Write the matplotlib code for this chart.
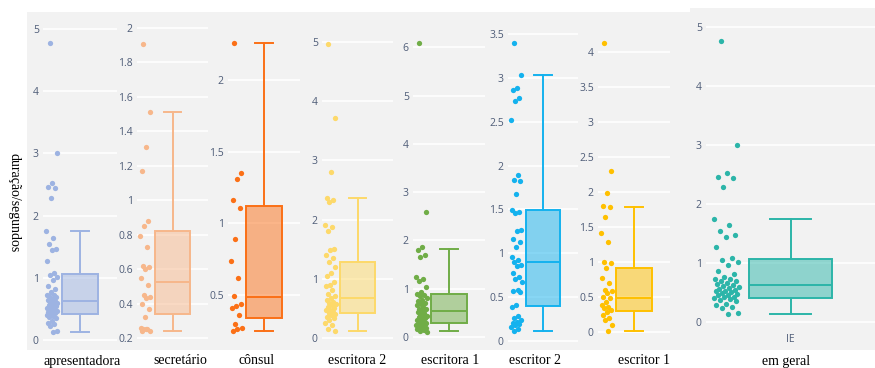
import numpy as np
import matplotlib
matplotlib.use("Agg")
import matplotlib.pyplot as plt
from matplotlib.patches import Rectangle

# ---- data (seconds) ----
categories = ["apresentadora", "secretário", "cônsul", "escritora 2",
              "escritora 1", "escritor 2", "escritor 1", "em geral"]

apresentadora = [4.77, 3.0, 2.52, 2.46, 2.44, 2.29, 1.75, 1.64, 1.55, 1.47, 1.44,
                 1.27, 1.08, 1.05, 1.02, 0.96, 0.87, 0.82, 0.77, 0.73, 0.72, 0.70,
                 0.69, 0.66, 0.65, 0.62, 0.61, 0.59, 0.58, 0.56, 0.55, 0.53, 0.52,
                 0.50, 0.49, 0.47, 0.46, 0.45, 0.43, 0.42, 0.40, 0.39, 0.37, 0.35,
                 0.31, 0.28, 0.25, 0.23, 0.15, 0.13]
secretario = [1.91, 1.51, 1.31, 1.17, 0.88, 0.85, 0.79, 0.73, 0.62, 0.61, 0.60,
              0.55, 0.51, 0.45, 0.44, 0.43, 0.40, 0.37, 0.32, 0.26, 0.25, 0.25,
              0.24, 0.25, 0.24]
consul = [2.26, 1.35, 1.31, 1.16, 1.11, 0.89, 0.74, 0.62, 0.49, 0.44, 0.42, 0.41,
          0.36, 0.30, 0.27, 0.26, 0.25]
escritora2 = [4.97, 3.72, 2.80, 2.37, 2.33, 2.30, 1.91, 1.88, 1.80, 1.51, 1.49,
              1.40, 1.35, 1.29, 1.20, 1.09, 1.05, 0.95, 0.90, 0.87, 0.81, 0.75,
              0.71, 0.67, 0.64, 0.61, 0.59, 0.57, 0.55, 0.53, 0.50, 0.48, 0.47,
              0.44, 0.42, 0.40, 0.38, 0.36, 0.33, 0.30, 0.26, 0.22, 0.16, 0.11]
escritora1 = [6.08, 2.58, 1.87, 1.80, 1.70, 1.65, 1.25, 1.20, 1.15, 1.04, 0.94,
              0.90, 0.87, 0.84, 0.80, 0.77, 0.74, 0.71, 0.68, 0.66, 0.62, 0.59,
              0.57, 0.55, 0.52, 0.49, 0.47, 0.44, 0.42, 0.41, 0.39, 0.37, 0.35,
              0.32, 0.30, 0.29, 0.28, 0.27, 0.26, 0.25, 0.24, 0.22, 0.21, 0.19,
              0.18, 0.16, 0.14, 0.12, 0.11]
escritor2 = [3.40, 3.03, 2.89, 2.86, 2.77, 2.74, 2.52, 1.89, 1.84, 1.82, 1.68,
             1.49, 1.47, 1.46, 1.27, 1.25, 1.16, 1.13, 1.07, 0.96, 0.92, 0.90,
             0.87, 0.85, 0.77, 0.73, 0.71, 0.67, 0.58, 0.57, 0.56, 0.41, 0.39,
             0.28, 0.26, 0.24, 0.22, 0.21, 0.19, 0.18, 0.16, 0.14, 0.11]
escritor1 = [4.13, 2.30, 1.98, 1.80, 1.78, 1.64, 1.41, 1.28, 1.00, 0.99, 0.92,
             0.77, 0.70, 0.60, 0.58, 0.56, 0.50, 0.48, 0.43, 0.39, 0.36, 0.34,
             0.32, 0.29, 0.24, 0.20, 0.17, 0.10, 0.01]
em_geral = list(apresentadora)

series = [apresentadora, secretario, consul, escritora2,
          escritora1, escritor2, escritor1, em_geral]

# box statistics per category
box_low = [0.13, 0.24, 0.25, 0.12, 0.12, 0.11, 0.01, 0.14]
box_q1 = [0.42, 0.34, 0.34, 0.43, 0.28, 0.40, 0.30, 0.41]
box_med = [0.63, 0.525, 0.486, 0.67, 0.54, 0.90, 0.48, 0.63]
box_q3 = [1.06, 0.82, 1.12, 1.29, 0.90, 1.49, 0.92, 1.07]
box_high = [1.75, 1.51, 2.26, 2.37, 1.82, 3.03, 1.79, 1.75]

# y ticks per panel
yticks = [
    [0, 1, 2, 3, 4, 5],
    [0.2, 0.4, 0.6, 0.8, 1.0, 1.2, 1.4, 1.6, 1.8, 2.0],
    [0.5, 1.0, 1.5, 2.0],
    [0, 1, 2, 3, 4, 5],
    [0, 1, 2, 3, 4, 5, 6],
    [0, 0.5, 1, 1.5, 2, 2.5, 3, 3.5],
    [0, 0.5, 1, 1.5, 2, 2.5, 3, 3.5, 4],
    [0, 1, 2, 3, 4, 5],
]

colors = ["#9DB3E2", "#F7B78B", "#FB7017", "#FDD96A",
          "#70AD47", "#14B2EE", "#FFC000", "#2CB5A9"]

# ---- layout (pixel frames) ----
W, H = 875, 368
fig = plt.figure(figsize=(W / 100, H / 100), dpi=100)
fig.patch.set_facecolor("white")


def frame(x0, y0, x1, y1):
    return [x0 / W, 1 - y1 / H, (x1 - x0) / W, (y1 - y0) / H]


bg = fig.add_axes([0, 0, 1, 1], zorder=0)
bg.set_xlim(0, W)
bg.set_ylim(H, 0)
bg.axis("off")
bg.add_patch(Rectangle((27, 12), 663, 338, color="#f2f2f2", lw=0))
bg.add_patch(Rectangle((690, 8), 185, 342, color="#f2f2f2", lw=0))

panel_x = [(43, 117), (137, 208), (228, 300), (322, 393),
           (413, 485), (508, 578), (598, 670), (706, 875)]
panel_top = [12, 12, 12, 12, 12, 12, 12, 8]
ylims = [(-0.161, 5.273), (0.130, 2.093), (0.116, 2.475), (-0.203, 5.507),
         (-0.269, 6.729), (-0.103, 3.751), (-0.257, 4.571), (-0.475, 5.322)]
label_x = [82, 180, 257, 357, 450, 535, 644, 786]

box_pos = 0.5
box_w = 0.49
pts_pos = 0.12
jit_w = 0.15


def fmt(v):
    return f"{v:g}"


for i, vals in enumerate(series):
    x0, x1 = panel_x[i]
    ax = fig.add_axes(frame(x0, panel_top[i], x1, 350), zorder=2)
    ax.set_facecolor("none")
    for s in ax.spines.values():
        s.set_visible(False)

    c = colors[i]
    stats = [dict(med=box_med[i], q1=box_q1[i], q3=box_q3[i],
                  whislo=box_low[i], whishi=box_high[i], fliers=[])]
    ax.bxp(stats, positions=[box_pos], widths=box_w, capwidths=box_w / 2,
           showfliers=False, patch_artist=True, manage_ticks=False,
           boxprops=dict(facecolor=matplotlib.colors.to_rgba(c, 0.5),
                         edgecolor=c, lw=1.4),
           medianprops=dict(color=c, lw=1.4),
           whiskerprops=dict(color=c, lw=1.4),
           capprops=dict(color=c, lw=1.4))

    n = len(vals)
    offs = ((np.arange(n) * 0.618034 + 0.3) % 1.0 - 0.5) * jit_w
    ax.plot(pts_pos + offs, vals, "o", ms=3.8, color=c, mec="none",
            zorder=3)

    ax.set_xlim(0, 1)
    ax.set_ylim(*ylims[i])
    ax.set_xticks([])
    ax.set_yticks(yticks[i])
    ax.set_yticklabels([fmt(t) for t in yticks[i]])
    ax.tick_params(axis="y", length=0, pad=3, labelsize=7.5,
                   labelcolor="#4f5d78")
    for lab in ax.get_yticklabels():
        lab.set_family("Open Sans")
    ax.yaxis.grid(True, color="white", lw=1.2)
    ax.set_axisbelow(True)

    if i == len(series) - 1:
        ax.text(box_pos, 0.03, "IE", transform=ax.transAxes, ha="center",
                va="center", fontsize=7.5, color="#4f5d78",
                family="Open Sans")

    fig.text(label_x[i] / W, 1 - 361 / H, categories[i], ha="center",
             va="center", fontsize=10, family="Liberation Serif",
             color="black")

fig.text(14 / W, 1 - 203 / H, "duração/segundos", rotation=-90,
         ha="center", va="center", fontsize=10, family="Liberation Serif",
         color="black")

fig.savefig("out.png", dpi=100, facecolor="white")
